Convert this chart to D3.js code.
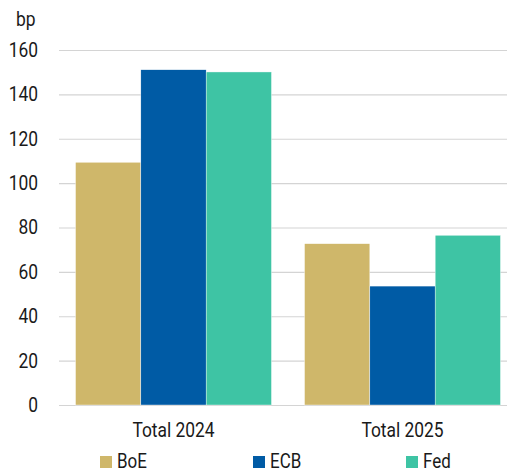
<!DOCTYPE html>
<html>
<head>
<meta charset="utf-8">
<script src="https://cdn.jsdelivr.net/npm/d3@7"></script>
<style>
  html, body { margin: 0; padding: 0; background: #fff; }
  svg { display: block; font-family: Roboto, "Liberation Sans", sans-serif; }
</style>
</head>
<body>
<svg id="chart" width="507" height="472"></svg>
<script>
// Rate cuts priced per central bank, in basis points
const periods = ["Total 2024", "Total 2025"];
const banks = ["BoE", "ECB", "Fed"];
const boe = [109.4, 72.7];
const ecb = [151.1, 53.6];
const fed = [150.1, 76.5];
const yTicks = [0, 20, 40, 60, 80, 100, 120, 140, 160];
const colors = ["#CFB76A", "#005BA5", "#3EC4A4"];

const seriesByBank = { BoE: boe, ECB: ecb, Fed: fed };

const FONT_SIZE = 20;
const NARROW = "scale(0.87,1)";   // condensed look for all labels
const TEXT_COLOR = "#1a1a1a";

const svg = d3.select("#chart");
const W = 507;
const plotLeft = 59, plotRight = 517;   // last group runs slightly past the edge

const x0 = d3.scaleBand().domain(periods)
  .range([plotLeft, plotRight]).paddingInner(0).paddingOuter(0);
const x1 = d3.scaleBand().domain(banks)
  .range([0, x0.bandwidth()]).paddingOuter(0.253);
const y = d3.scaleLinear().domain([0, 160]).range([405, 50]);

// Gridlines
svg.append("g").selectAll("line").data(yTicks).join("line")
  .attr("x1", plotLeft).attr("x2", W)
  .attr("y1", d => y(d) + 0.5).attr("y2", d => y(d) + 0.5)
  .attr("stroke", "#d4d4d4").attr("stroke-width", 1.2);

// Y axis labels
const yAxis = d3.axisLeft(y).tickValues(yTicks).tickSize(0).tickPadding(0);
svg.append("g").attr("transform", "translate(38,0)").call(yAxis)
  .call(g => g.select(".domain").remove())
  .selectAll("text")
  .attr("font-size", FONT_SIZE).attr("fill", TEXT_COLOR)
  .attr("font-family", "Roboto, sans-serif")
  .attr("transform", NARROW);

svg.append("text").attr("transform", `translate(16,26) ${NARROW}`)
  .attr("font-size", FONT_SIZE).attr("fill", TEXT_COLOR).text("bp");

// Bars
const groups = svg.append("g").selectAll("g").data(periods).join("g")
  .attr("transform", d => `translate(${x0(d)},0)`);
groups.selectAll("rect")
  .data((p, i) => banks.map((b, j) => ({ bank: b, value: seriesByBank[b][i], color: colors[j] })))
  .join("rect")
  .attr("x", d => x1(d.bank))
  .attr("width", x1.bandwidth())
  .attr("y", d => y(d.value))
  .attr("height", d => y(0) - y(d.value))
  .attr("fill", d => d.color)
  .attr("stroke", "#fff").attr("stroke-width", 0.4);

// X axis labels
const xAxis = d3.axisBottom(x0).tickSize(0).tickPadding(0);
svg.append("g").attr("transform", "translate(0,423)").call(xAxis)
  .call(g => g.select(".domain").remove())
  .selectAll("text")
  .attr("font-size", FONT_SIZE).attr("fill", TEXT_COLOR)
  .attr("font-family", "Roboto, sans-serif")
  .attr("transform", NARROW);

// Legend
const legendX = [100, 253, 406];
const legend = svg.append("g").selectAll("g").data(banks).join("g")
  .attr("transform", (d, i) => `translate(${legendX[i]},456)`);
legend.append("rect").attr("width", 12).attr("height", 12)
  .attr("fill", (d, i) => colors[i]);
legend.append("text").attr("transform", `translate(17,11.5) ${NARROW}`)
  .attr("font-size", 19.5).attr("fill", TEXT_COLOR).text(d => d);
</script>
</body>
</html>
